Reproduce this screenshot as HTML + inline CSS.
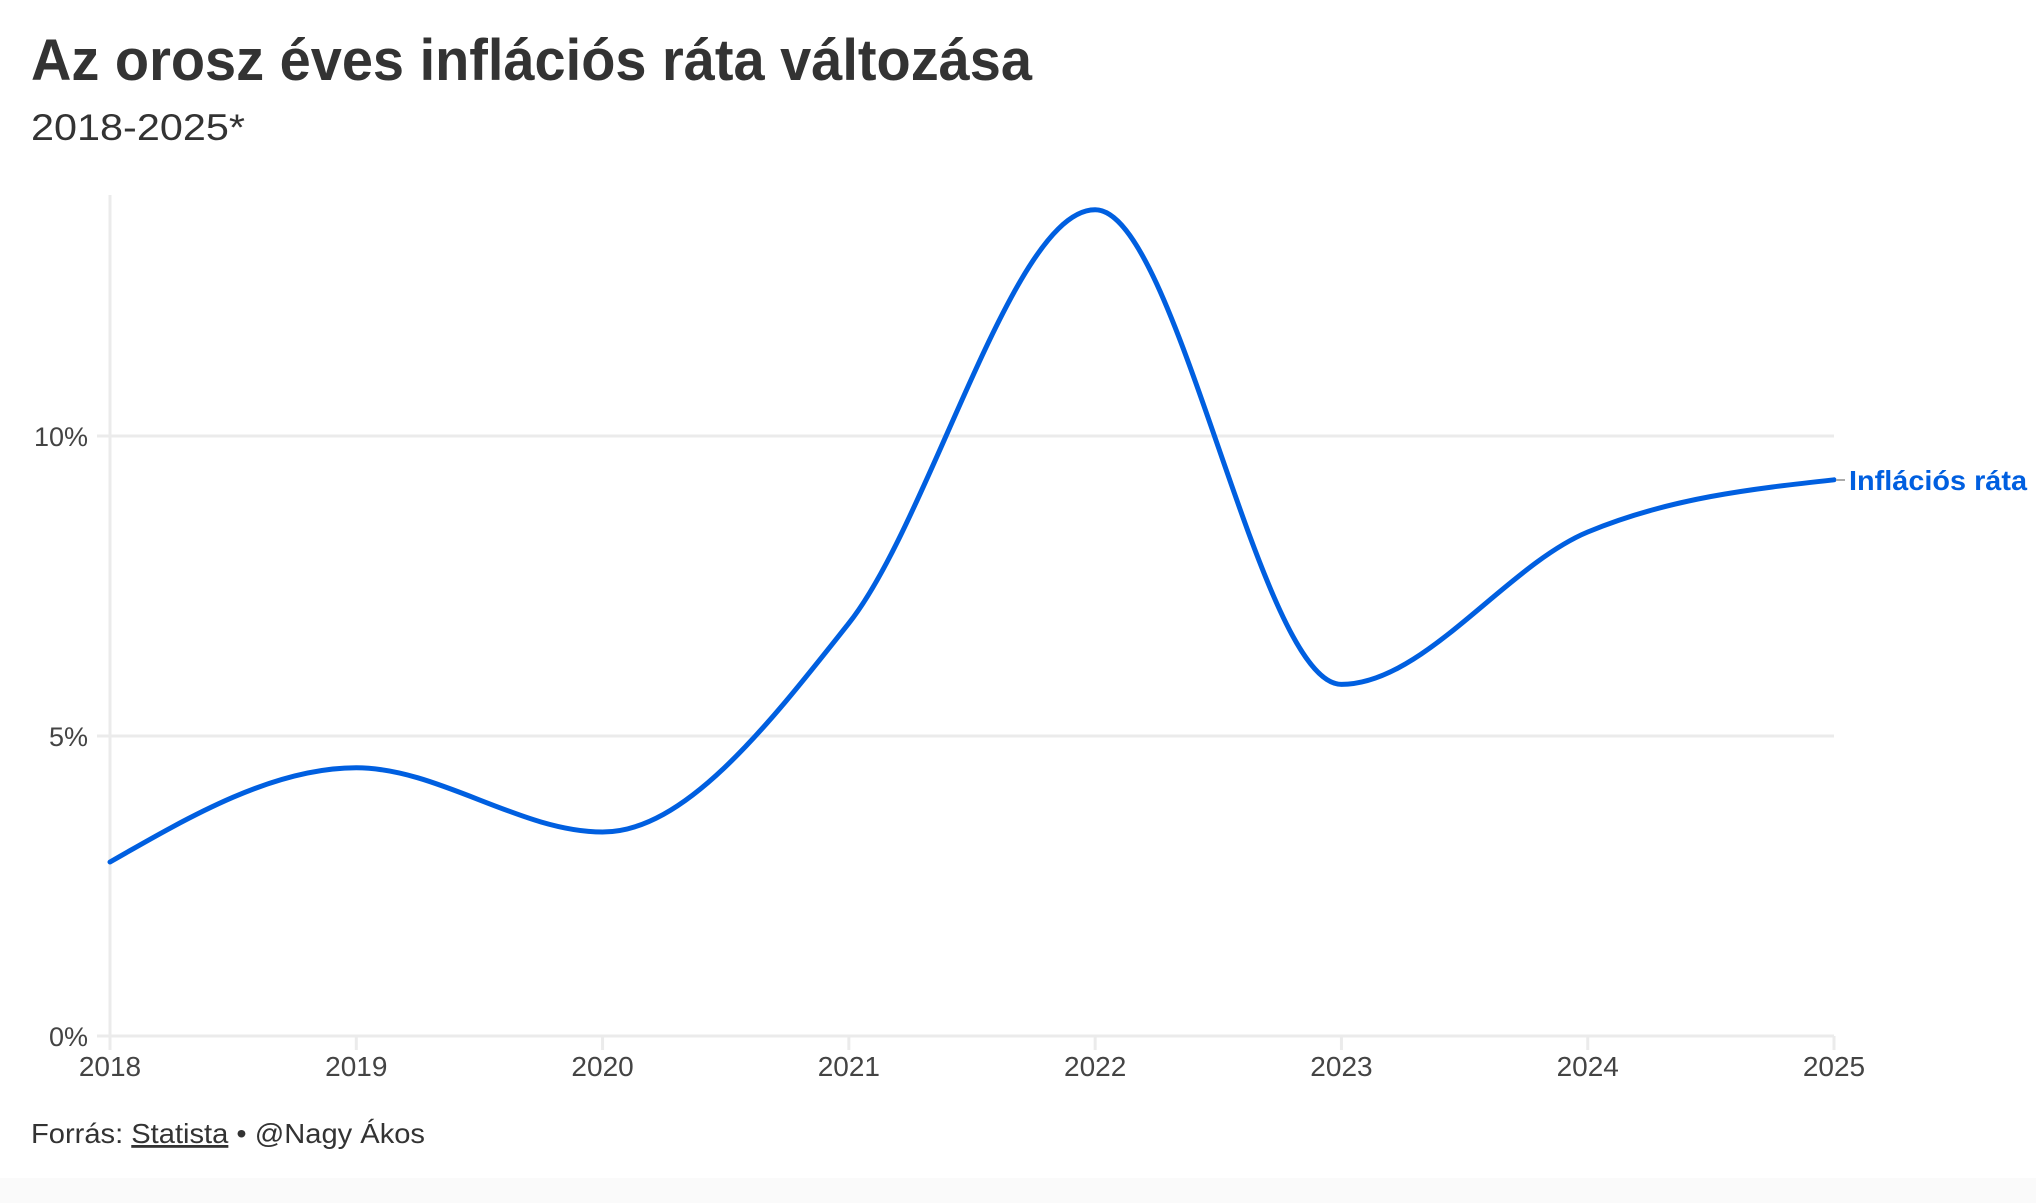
<!DOCTYPE html>
<html><head><meta charset="utf-8"><style>
html,body{margin:0;padding:0;background:#fff;}
svg{display:block;}
text{font-family:"Liberation Sans",sans-serif;}
</style></head><body>
<svg width="2036" height="1203" viewBox="0 0 2036 1203" xmlns="http://www.w3.org/2000/svg">
<rect x="0" y="0" width="2036" height="1203" fill="#fff"/>
<rect x="0" y="1178" width="2036" height="25" fill="#fafafa"/>
<text x="31" y="80" font-size="58" font-weight="bold" fill="#333" textLength="1001" lengthAdjust="spacingAndGlyphs">Az orosz éves inflációs ráta változása</text>
<text x="31" y="140" font-size="37" fill="#333" textLength="214" lengthAdjust="spacingAndGlyphs">2018-2025*</text>
<g stroke="#ebebeb" stroke-width="3" fill="none">
<line x1="110" y1="195" x2="110" y2="1050"/>
<line x1="97" y1="436" x2="1834" y2="436"/>
<line x1="97" y1="736" x2="1834" y2="736"/>
<line x1="97" y1="1036" x2="1834" y2="1036"/>
<line x1="356.29" y1="1036" x2="356.29" y2="1050"/>
<line x1="602.58" y1="1036" x2="602.58" y2="1050"/>
<line x1="848.87" y1="1036" x2="848.87" y2="1050"/>
<line x1="1095.16" y1="1036" x2="1095.16" y2="1050"/>
<line x1="1341.45" y1="1036" x2="1341.45" y2="1050"/>
<line x1="1587.74" y1="1036" x2="1587.74" y2="1050"/>
<line x1="1834" y1="1036" x2="1834" y2="1050"/>
</g>
<g font-size="27" fill="#444" text-anchor="end">
<text x="88" y="446">10%</text>
<text x="88" y="746">5%</text>
<text x="88" y="1046">0%</text>
</g>
<g font-size="28" fill="#444" text-anchor="middle">
<text x="110" y="1076">2018</text>
<text x="356.29" y="1076">2019</text>
<text x="602.58" y="1076">2020</text>
<text x="848.87" y="1076">2021</text>
<text x="1095.16" y="1076">2022</text>
<text x="1341.45" y="1076">2023</text>
<text x="1587.74" y="1076">2024</text>
<text x="1834" y="1076">2025</text>
</g>
<path fill="none" stroke="#005fe0" stroke-width="5" stroke-linejoin="round" stroke-linecap="round"
d="M110,862 C192.10,814.9 274.19,767.8 356.29,767.8 C438.39,767.8 520.48,832 602.58,832 C684.68,832 766.77,726.9 848.87,623.2 C930.97,519.5 1013.06,209.8 1095.16,209.8 C1177.26,209.8 1259.35,684.4 1341.45,684.4 C1423.55,684.4 1505.64,566.1 1587.74,532 C1669.84,497.9 1751.93,488.85 1834.03,479.8"/>
<line x1="1836" y1="480" x2="1845" y2="480" stroke="#aaa" stroke-width="2"/>
<text x="1849" y="490" font-size="28" font-weight="bold" fill="#005fe0" textLength="178" lengthAdjust="spacingAndGlyphs">Inflációs ráta</text>
<text x="31" y="1143" font-size="28" fill="#333" textLength="394" lengthAdjust="spacingAndGlyphs">Forrás: <tspan text-decoration="underline">Statista</tspan> • @Nagy Ákos</text>
</svg>
</body></html>
